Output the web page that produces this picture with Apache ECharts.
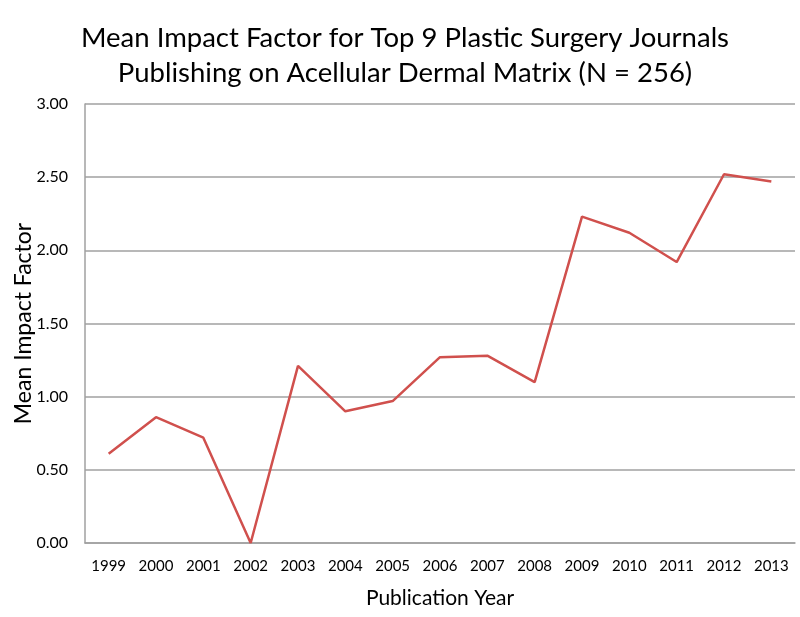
<!DOCTYPE html>
<html>
<head>
<meta charset="utf-8">
<script src="https://cdn.jsdelivr.net/npm/echarts@6/dist/echarts.min.js"></script>
<style>html,body{margin:0;padding:0;background:#fff}#c{width:800px;height:617px}</style>
</head>
<body>
<div id="c"></div>
<script>
var years = ['1999','2000','2001','2002','2003','2004','2005','2006','2007','2008','2009','2010','2011','2012','2013'];
var meanImpact = [0.61, 0.86, 0.72, 0.00, 1.21, 0.90, 0.97, 1.27, 1.28, 1.10, 2.23, 2.12, 1.92, 2.52, 2.47];
var yTicks = [0, 0.5, 1, 1.5, 2, 2.5, 3];

var FONT = 'Lato';
var chart = echarts.init(document.getElementById('c'));
chart.setOption({
  backgroundColor: '#fff',
  animation: false,
  title: {
    text: 'Mean Impact Factor for Top 9 Plastic Surgery Journals\nPublishing on Acellular Dermal Matrix (N = 256)',
    left: 400, top: 16, textAlign: 'center',
    textStyle: { fontFamily: FONT, fontSize: 27.5, fontWeight: 'normal', color: '#000', lineHeight: 35 }
  },
  grid: { left: 85, right: 5, top: 104, bottom: 74, containLabel: false, outerBoundsMode: 'none' },
  xAxis: {
    type: 'category',
    data: years,
    boundaryGap: true,
    name: 'Publication Year',
    nameLocation: 'middle',
    nameGap: 45,
    nameMoveOverlap: false,
    nameTextStyle: { fontFamily: FONT, fontSize: 21, color: '#000' },
    axisLine: { lineStyle: { color: '#a0a0a0', width: 1.5 } },
    axisTick: { show: false },
    axisLabel: { fontFamily: FONT, fontSize: 15, color: '#000', margin: 16, interval: 0 }
  },
  yAxis: {
    type: 'value',
    min: 0, max: 3, interval: 0.5,
    name: 'Mean Impact Factor',
    nameLocation: 'middle',
    nameGap: 50,
    nameMoveOverlap: false,
    nameTextStyle: { fontFamily: FONT, fontSize: 23, color: '#000' },
    axisLine: { show: true, lineStyle: { color: '#a0a0a0', width: 1.5 } },
    axisTick: { show: false },
    splitLine: { lineStyle: { color: '#a0a0a0', width: 1.5 } },
    axisLabel: {
      fontFamily: FONT, fontSize: 16, color: '#000', margin: 17,
      formatter: function (v) { return yTicks.indexOf(v) >= 0 ? v.toFixed(2) : ''; }
    }
  },
  series: [{
    type: 'line',
    data: meanImpact,
    symbol: 'none',
    lineStyle: { color: '#d0504d', width: 2.5 },
    itemStyle: { color: '#d0504d' }
  }]
});
</script>
</body>
</html>
